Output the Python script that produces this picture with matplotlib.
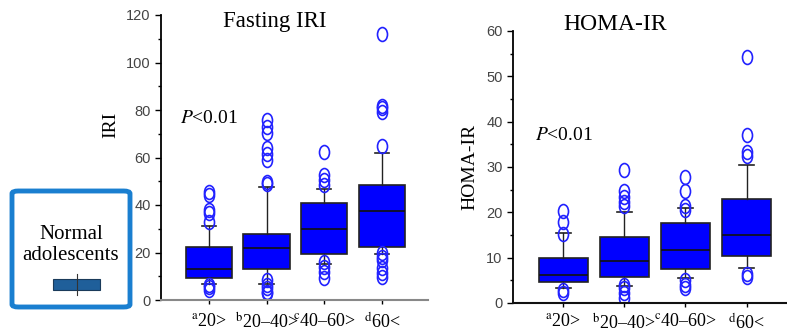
import numpy as np
import matplotlib
matplotlib.use("Agg")
import matplotlib.pyplot as plt
from matplotlib.patches import FancyBboxPatch, Rectangle
from matplotlib.path import Path

plt.rcParams['mathtext.fontset'] = 'stix'

groups = [r'$^{\rm a}$20>', r'$^{\rm b}$20–40>', r'$^{\rm c}$40–60>', r'$^{\rm d}$60<']

# Fasting IRI: box stats
iri_q1 = [9.4, 12.9, 19.2, 22.5]
iri_med = [12.9, 21.8, 30.0, 37.5]
iri_q3 = [22.5, 27.6, 41.0, 48.4]
iri_lo = [6.7, 6.7, 15.0, 19.2]
iri_hi = [31.2, 47.7, 46.9, 62.0]
iri_out = [
    [44.2, 45.3, 36.5, 37.9, 32.7, 5.6, 4.2, 6.3],
    [75.8, 73.0, 70.2, 63.9, 61.5, 59.0, 49.8, 48.7, 8.4, 6.3, 4.9, 3.5, 2.8],
    [62.5, 52.6, 50.5, 48.4, 16.1, 14.0, 11.9, 9.1],
    [111.9, 81.7, 80.7, 79.3, 64.8, 19.6, 18.2, 16.8, 13.3, 11.2, 9.8],
]

# HOMA-IR
homa_q1 = [4.6, 5.7, 7.5, 10.3]
homa_med = [6.25, 9.2, 11.7, 15.1]
homa_q3 = [9.9, 14.6, 17.6, 22.9]
homa_lo = [3.4, 3.75, 5.5, 7.7]
homa_hi = [15.4, 20.0, 20.9, 30.4]
homa_out = [
    [20.3, 17.9, 15.3, 2.8, 2.1],
    [29.4, 24.6, 23.4, 22.3, 21.5, 3.9, 3.2, 2.1, 1.1],
    [27.8, 24.6, 21.5, 20.6, 5.0, 3.9, 3.2],
    [54.3, 37.0, 33.3, 32.4, 6.5, 5.7],
]

serif = 'Liberation Serif'
sans = 'Liberation Sans'

# tall ellipse marker for the outliers
circ = Path.unit_circle()
ellipse = Path(circ.vertices * [0.72, 1.0], circ.codes)


def stats(q1, med, q3, lo, hi, out):
    return [dict(q1=a, med=b, q3=c, whislo=d, whishi=e, fliers=f)
            for a, b, c, d, e, f in zip(q1, med, q3, lo, hi, out)]


def draw(ax, st, ymax, major, minor, xcol, xpad):
    ax.bxp(st, positions=[1, 2, 3, 4], widths=0.8, patch_artist=True,
           boxprops=dict(facecolor='#0000ff', edgecolor='#222222', linewidth=1.2),
           medianprops=dict(color='#111111', linewidth=1.2),
           whiskerprops=dict(color='#222222', linewidth=1),
           capprops=dict(color='#222222', linewidth=1.2), capwidths=0.25,
           flierprops=dict(marker=ellipse, markerfacecolor='none', markeredgecolor='#2222ff',
                           markersize=10, markeredgewidth=1.2))
    ax.set_ylim(0, ymax)
    ax.set_yticks(np.arange(0, ymax + 1, major))
    ax.set_yticks(np.arange(minor, ymax, major), minor=True)
    ax.set_xticks([1, 2, 3, 4])
    ax.set_xticklabels(groups, fontfamily=serif, fontsize=13)
    for lab in ax.get_yticklabels():
        lab.set_fontfamily(sans)
        lab.set_fontsize(10.5)
        lab.set_color('#444444')
    ax.tick_params(axis='y', length=4, width=1)
    ax.tick_params(axis='y', which='minor', length=2.5, width=1)
    ax.tick_params(axis='x', length=3, width=1, pad=xpad)
    ax.spines['top'].set_visible(False)
    ax.spines['right'].set_visible(False)
    ax.spines['left'].set_linewidth(1.3)
    ax.spines['bottom'].set_linewidth(1.5)
    ax.spines['bottom'].set_color(xcol)


fig = plt.figure(figsize=(7.87, 3.33), dpi=100)

ax1 = fig.add_axes([161 / 787, 33 / 333, 267 / 787, 285 / 333])
draw(ax1, stats(iri_q1, iri_med, iri_q3, iri_lo, iri_hi, iri_out), 120, 20, 10, '#888888', 6)
ax1.set_xlim(0.17, 4.8)
ax1.set_ylabel('IRI', fontfamily=serif, fontsize=14)
ax1.yaxis.set_label_coords(-0.155, 0.615)
ax1.text(0.07, 0.62, r'$P$<0.01', transform=ax1.transAxes, fontfamily=serif, fontsize=14)
fig.text(275 / 787, 1 - 22 / 333, 'Fasting IRI', fontfamily=serif, fontsize=16.5,
         ha='center', va='center')

ax2 = fig.add_axes([513 / 787, 30 / 333, 274 / 787, 272 / 333])
draw(ax2, stats(homa_q1, homa_med, homa_q3, homa_lo, homa_hi, homa_out), 60, 10, 5, '#111111', 4)
ax2.set_xlim(0.18, 4.66)
ax2.set_ylabel('HOMA-IR', fontfamily=serif, fontsize=14)
ax2.yaxis.set_label_coords(-0.125, 0.5)
ax2.text(0.08, 0.6, r'$P$<0.01', transform=ax2.transAxes, fontfamily=serif, fontsize=14)
fig.text(615 / 787, 1 - 25 / 333, 'HOMA-IR', fontfamily=serif, fontsize=17,
         ha='center', va='center')

# framed "Normal adolescents" key on the left
frame = FancyBboxPatch((12 / 787, 26 / 333), 118 / 787, 116 / 333,
                       boxstyle='round,pad=0,rounding_size=0.008', transform=fig.transFigure,
                       facecolor='white', edgecolor='#1a7fd0', linewidth=3.5)
fig.patches.append(frame)
fig.text(71 / 787, 1 - 245 / 333, 'Normal\nadolescents', fontfamily=serif, fontsize=15,
         ha='center', va='center', linespacing=1.15)
fig.patches.append(Rectangle((53 / 787, 1 - 290 / 333), 47 / 787, 11 / 333,
                             transform=fig.transFigure, facecolor='#1f5f9a',
                             edgecolor='#1a3a5a', linewidth=0.8))
fig.lines.append(plt.Line2D([76.5 / 787, 76.5 / 787], [1 - 295 / 333, 1 - 274 / 333],
                            transform=fig.transFigure, color='#333333', linewidth=0.8))

fig.savefig('out.png', dpi=100)
